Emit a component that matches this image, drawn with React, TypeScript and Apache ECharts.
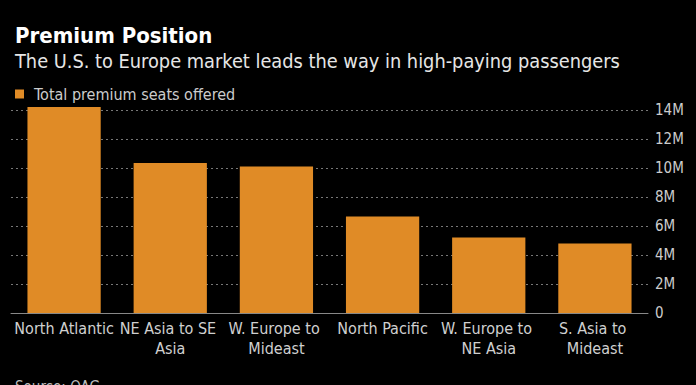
import React, { useEffect, useRef } from "react";
import * as echarts from "echarts";

const categories = [
  "North Atlantic",
  "NE Asia to SE Asia",
  "W. Europe to Mideast",
  "North Pacific",
  "W. Europe to NE Asia",
  "S. Asia to Mideast",
];
const seatValues = [14.2, 10.35, 10.1, 6.65, 5.2, 4.8];
const yTicks = [0, 2, 4, 6, 8, 10, 12, 14];

const FONT = "'DejaVu Sans Condensed', 'Liberation Sans Narrow', sans-serif";

export default function App() {
  const ref = useRef<HTMLDivElement>(null);
  useEffect(() => {
    if (!ref.current) return;
    const chart = echarts.init(ref.current, null, { renderer: "svg" });
    chart.setOption({
      animation: false,
      backgroundColor: "#000000",
      textStyle: { fontFamily: FONT },
      title: [
        {
          text: "Premium Position",
          left: 10,
          top: 19,
          textStyle: { color: "#ffffff", fontSize: 22, fontWeight: "bold", fontFamily: FONT },
        },
        {
          text: "The U.S. to Europe market leads the way in high-paying passengers",
          left: 10,
          top: 46,
          textStyle: { color: "#e6e6e6", fontSize: 19.8, fontWeight: "normal", fontFamily: FONT },
        },
        {
          text: "Source: OAG",
          left: 10,
          top: 374,
          textStyle: { color: "#bbbbbb", fontSize: 15, fontWeight: "normal", fontFamily: FONT },
        },
      ],
      legend: {
        left: 10,
        top: 81,
        itemWidth: 9,
        itemHeight: 9,
        icon: "rect",
        textStyle: { color: "#cccccc", fontSize: 16, fontFamily: FONT, padding: [0, 0, 0, 5] },
        data: ["Total premium seats offered"],
      },
      grid: { left: 11, right: 48, top: 110, bottom: 72, containLabel: false },
      xAxis: {
        type: "category",
        data: categories,
        axisLine: { show: true, lineStyle: { color: "#888888", width: 1 } },
        axisTick: { show: false },
        axisLabel: {
          color: "#d0d0d0",
          fontSize: 16,
          fontFamily: FONT,
          interval: 0,
          margin: 5,
          lineHeight: 20,
          width: 105,
          overflow: "break",
        },
      },
      yAxis: {
        type: "value",
        position: "right",
        min: 0,
        max: 14,
        interval: 2,
        axisLine: { show: false },
        axisTick: { show: false },
        splitLine: { show: true, lineStyle: { color: "#777777", type: [2, 3], width: 1 } },
        axisLabel: {
          color: "#cccccc",
          fontSize: 15,
          fontFamily: FONT,
          margin: 7,
          formatter: (v: number) => (yTicks.includes(v) ? (v === 0 ? "0" : v + "M") : ""),
        },
      },
      series: [
        {
          name: "Total premium seats offered",
          type: "bar",
          data: seatValues,
          barWidth: "69%",
          clip: false,
          itemStyle: { color: "#e08b26" },
          z: 3,
        },
      ],
    });
    return () => chart.dispose();
  }, []);
  return (
    <div
      ref={ref}
      style={{ position: "fixed", left: 0, top: 0, width: 696, height: 385 }}
    />
  );
}
